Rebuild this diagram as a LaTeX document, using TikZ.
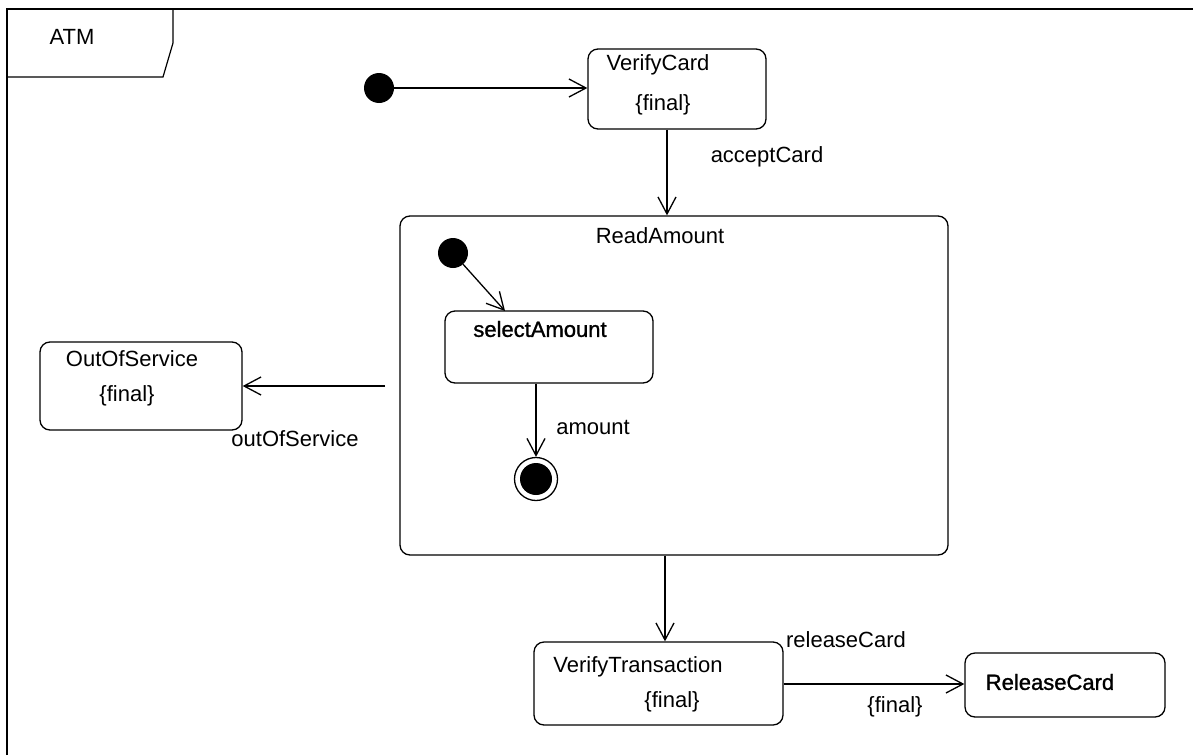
\documentclass[tikz,border=0pt]{standalone}
\usepackage{fontspec}
\setmainfont{Liberation Sans}
\newfontfamily\semibold[FakeBold=1.2]{Liberation Sans}
\usetikzlibrary{arrows.meta}
\begin{document}
\begin{tikzpicture}[x=1pt,y=-1pt,
  every node/.style={font=\fontsize{22}{26}\selectfont, inner sep=0pt},
  frame/.style={line width=1.2pt},
  statebox/.style={draw, line width=1.3pt, rounded corners=10pt, inner sep=0pt},
  dot/.style={circle, fill=black, inner sep=0pt, minimum size=30pt},
  arr/.style={line width=1.3pt, -{Straight Barb[length=17pt,width=18pt,line width=1.3pt]}},
  lbl/.style={anchor=center}
]
\useasboundingbox (0,0) rectangle (1193,755);
% frame
\draw[frame] (7,755) -- (7,9) -- (1193,9);
\draw[frame] (173,9) -- (173,43) -- (163,77) -- (7,77);
\node[lbl] (atm) at (72,37) {ATM};

% top
\node[dot] (init1) at (379,88) {};
\node[statebox, minimum width=178pt, minimum height=80pt] (vc) at (677,89) {};
\node[lbl] (vct) at (658,65) {VerifyCard};
\node[lbl] (vcf) at (663,105) {\{final\}};
\draw[arr] (init1) -- (init1 -| vc.west);

% ReadAmount composite
\node[statebox, minimum width=548pt, minimum height=339pt] (ra) at (674,385.5) {};
\node[lbl] (rat) at (660,236) {ReadAmount};
\coordinate (xa) at (667,0);
\draw[arr] (vc.south -| xa) -- (ra.north -| xa);
\node[lbl] (acc) at (767,157) {acceptCard};

\node[dot] (init2) at (453,253) {};
\node[statebox, minimum width=208pt, minimum height=72pt] (sa) at (549,347) {};
\node[lbl] (sat) at (540,329) {\semibold selectAmount};
\coordinate (t2) at (505,311);
\draw[arr] (init2) -- (t2);

\node[circle, draw, line width=1.3pt, minimum size=43pt, inner sep=0pt] (fin) at (536,479) {};
\node[circle, fill=black, minimum size=32pt, inner sep=0pt] (fininner) at (fin.center) {};
\draw[arr] (sa.south -| fin) -- (fin.north);
\node[lbl] (amt) at (593,427) {amount};

% OutOfService
\node[statebox, minimum width=202pt, minimum height=88pt] (oos) at (141,386) {};
\node[lbl] (oost) at (132,359) {OutOfService};
\node[lbl] (oosf) at (127,396) {\{final\}};
\coordinate (o1) at (385,386);
\draw[arr] (o1) -- (o1 -| oos.east);
\node[lbl] (oosl) at (295,439) {outOfService};

% VerifyTransaction
\node[statebox, minimum width=249pt, minimum height=83pt] (vt) at (658.5,683.5) {};
\node[lbl] (vtt) at (638,667) {VerifyTransaction};
\node[lbl] (vtf) at (672,702) {\{final\}};
\coordinate (xb) at (665,0);
\draw[arr] (ra.south -| xb) -- (vt.north -| xb);

% ReleaseCard
\node[statebox, minimum width=200pt, minimum height=64pt] (rc) at (1065,685) {};
\node[lbl] (rct) at (1050,682) {\semibold ReleaseCard};
\coordinate (yb) at (0,684);
\draw[arr] (vt.east |- yb) -- (rc.west |- yb);
\node[lbl] (relc) at (846,640) {releaseCard};
\node[lbl] (relf) at (895,707) {\{final\}};
\end{tikzpicture}
\end{document}
